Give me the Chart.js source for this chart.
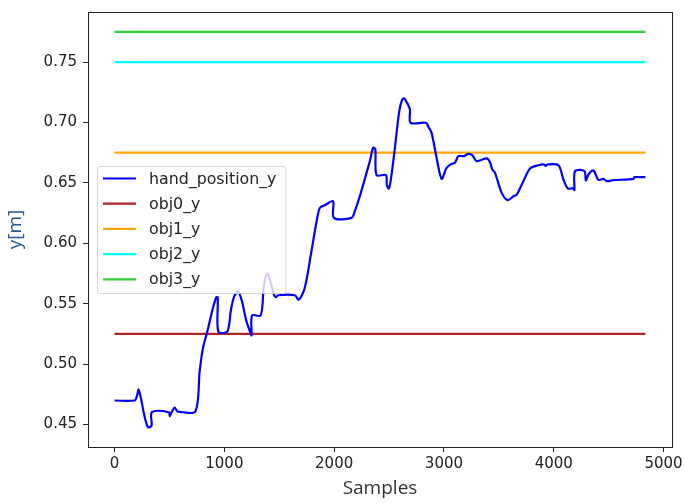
<!DOCTYPE html>
<html>
<head>
<meta charset="utf-8">
<script src="https://cdn.jsdelivr.net/npm/chart.js@4.4.1/dist/chart.umd.min.js"></script>
<style>
  html, body { margin: 0; padding: 0; background: #fff; }
  #wrap { width: 684px; height: 504px; }
</style>
</head>
<body>
<div id="wrap"><canvas id="canvas"></canvas></div>
<script>
// hand trajectory (sample index -> y position in metres)
var sampleIdx = [0, 182, 205, 219, 240, 270, 304, 337, 340, 495, 502, 520, 547, 570, 593, 736,
  775, 805, 845, 896, 927, 940, 945, 1027, 1060, 1090, 1125, 1160, 1201, 1230, 1248, 1252,
  1331, 1360, 1392, 1420, 1450, 1468, 1490, 1641, 1678, 1732, 1793, 1840, 1870, 1915, 1990,
  1997, 2158, 2190, 2234, 2325, 2355, 2375, 2386, 2471, 2480, 2499, 2520, 2553, 2593, 2620,
  2638, 2665, 2690, 2696, 2836, 2860, 2887, 2933, 2979, 3024, 3070, 3100, 3131, 3182, 3221,
  3258, 3298, 3389, 3419, 3440, 3465, 3526, 3580, 3632, 3663, 3723, 3784, 3860, 3912, 3927,
  3940, 4042, 4088, 4128, 4179, 4188, 4194, 4279, 4292, 4316, 4361, 4407, 4452, 4483, 4544,
  4726, 4735, 4835];
var handY = [0.4699, 0.4699, 0.474, 0.4788, 0.472, 0.458, 0.4478, 0.449, 0.4602, 0.4602, 0.457,
  0.4602, 0.4641, 0.461, 0.4605, 0.4608, 0.494, 0.5132, 0.527, 0.5464, 0.5553, 0.5553, 0.527,
  0.527, 0.545, 0.556, 0.5602, 0.552, 0.5354, 0.528, 0.5238, 0.5403, 0.5403, 0.565, 0.5749,
  0.568, 0.558, 0.5553, 0.557, 0.557, 0.5533, 0.563, 0.5934, 0.618, 0.6293, 0.6315, 0.6348,
  0.621, 0.621, 0.627, 0.639, 0.668, 0.679, 0.678, 0.6564, 0.6564, 0.648, 0.6453, 0.655, 0.679,
  0.7094, 0.719, 0.7199, 0.716, 0.7108, 0.6997, 0.6997, 0.696, 0.6914, 0.6707, 0.6533, 0.6624,
  0.6657, 0.6666, 0.6721, 0.6721, 0.674, 0.6729, 0.668, 0.6702, 0.6671, 0.6611, 0.6583, 0.6417,
  0.6357, 0.6389, 0.6403, 0.6514, 0.6619, 0.6646, 0.6652, 0.664, 0.6652, 0.6646, 0.6528, 0.6453,
  0.6456, 0.644, 0.6597, 0.6597, 0.652, 0.6569, 0.6602, 0.6525, 0.6533, 0.6514, 0.6522, 0.6533,
  0.6547, 0.6547];

// object y positions, constant over the run
var objNames = ['obj0_y', 'obj1_y', 'obj2_y', 'obj3_y'];
var objY = [0.525, 0.675, 0.75, 0.775];
var objColors = ['#b22222', '#ffa500', '#00ffff', '#32cd32'];
var lastSample = 4835;

var xTicks = [0, 1000, 2000, 3000, 4000, 5000];
var yTicks = [0.45, 0.50, 0.55, 0.60, 0.65, 0.70, 0.75];

var tickFont = { family: 'DejaVu Sans', size: 15 };

var datasets = [{
  label: 'hand_position_y',
  data: sampleIdx.map(function(x, i) { return { x: x, y: handY[i] }; }),
  borderColor: '#0000ff',
  borderWidth: 2.2,
  pointRadius: 0,
  tension: 0.3,
  fill: false
}];
objNames.forEach(function(name, i) {
  datasets.push({
    label: name,
    data: [{ x: 0, y: objY[i] }, { x: lastSample, y: objY[i] }],
    borderColor: objColors[i],
    borderWidth: 2.2,
    pointRadius: 0,
    fill: false
  });
});

// axes frame (all four spines)
var frame = {
  id: 'frame',
  afterDatasetsDraw: function(chart) {
    var a = chart.chartArea, ctx = chart.ctx;
    ctx.save();
    ctx.strokeStyle = '#222';
    ctx.lineWidth = 1;
    ctx.strokeRect(Math.round(a.left) + 0.5, Math.round(a.top) + 0.5,
      Math.round(a.right - a.left), Math.round(a.bottom - a.top));
    ctx.restore();
  }
};

// legend box on the left, vertically centred
var boxLegend = {
  id: 'boxLegend',
  afterDraw: function(chart) {
    var a = chart.chartArea, ctx = chart.ctx;
    var sets = chart.data.datasets;
    ctx.save();
    ctx.font = '15.8px "DejaVu Sans"';
    var tw = 0;
    sets.forEach(function(d) { tw = Math.max(tw, ctx.measureText(d.label).width); });
    var rowH = 25.2;
    var w = 6 + 33 + 13 + tw + 9;
    var h = rowH * sets.length + 1;
    var x0 = a.left + 9;
    var y0 = (a.top + a.bottom) / 2 - h / 2;
    ctx.fillStyle = 'rgba(255,255,255,0.8)';
    ctx.strokeStyle = 'rgba(204,204,204,0.8)';
    ctx.lineWidth = 1;
    ctx.beginPath();
    ctx.roundRect(x0 + 0.5, y0 + 0.5, w, h, 3);
    ctx.fill();
    ctx.stroke();
    ctx.textBaseline = 'middle';
    sets.forEach(function(d, i) {
      var cy = y0 + 12.5 + i * rowH;
      ctx.strokeStyle = d.borderColor;
      ctx.lineWidth = 2.2;
      ctx.beginPath();
      ctx.moveTo(x0 + 6, cy);
      ctx.lineTo(x0 + 39, cy);
      ctx.stroke();
      ctx.fillStyle = '#222';
      ctx.fillText(d.label, x0 + 52, cy + 1);
    });
    ctx.restore();
  }
};

new Chart(document.getElementById('canvas'), {
  type: 'line',
  data: { datasets: datasets },
  options: {
    responsive: true,
    maintainAspectRatio: false,
    animation: false,
    layout: { padding: { left: 0, right: 12, top: 12, bottom: 0 } },
    plugins: { legend: { display: false }, tooltip: { enabled: false } },
    scales: {
      x: {
        type: 'linear',
        min: -241.75,
        max: 5076.75,
        afterBuildTicks: function(s) { s.ticks = xTicks.map(function(v) { return { value: v }; }); },
        afterFit: function(s) { s.height = 57; s.paddingLeft = 0; s.paddingRight = 0; },
        grid: { drawOnChartArea: false, drawTicks: true, tickLength: 5, color: '#222' },
        border: { display: false },
        ticks: { font: tickFont, color: '#222', padding: 3, maxRotation: 0,
          callback: function(v) { return String(v); } },
        title: { display: true, text: 'Samples', color: '#333',
          font: { family: 'Open Sans', size: 19 }, padding: { top: 0, bottom: 4 } }
      },
      y: {
        min: 0.4314,
        max: 0.7914,
        afterBuildTicks: function(s) { s.ticks = yTicks.map(function(v) { return { value: v }; }); },
        afterFit: function(s) { s.width = 88; s.paddingTop = 0; s.paddingBottom = 0; },
        grid: { drawOnChartArea: false, drawTicks: true, tickLength: 5, color: '#222' },
        border: { display: false },
        ticks: { font: tickFont, color: '#222', padding: 6,
          callback: function(v) { return v.toFixed(2); } },
        title: { display: true, text: 'y[m]', color: '#1f5a96',
          font: { family: 'Open Sans', size: 19 }, padding: { top: 4, bottom: 0 } }
      }
    }
  },
  plugins: [frame, boxLegend]
});
</script>
</body>
</html>
